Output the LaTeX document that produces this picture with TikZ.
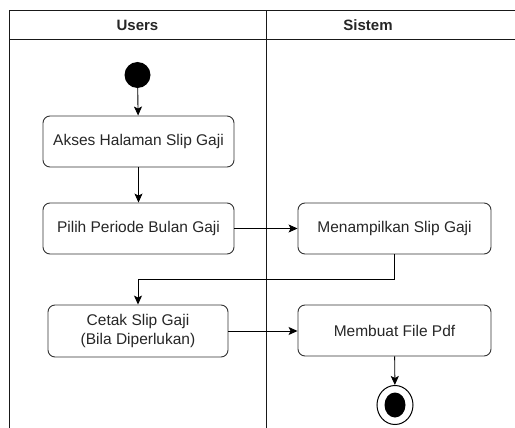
\documentclass[tikz,border=0pt]{standalone}
\usepackage{fontspec}
\setmainfont{Liberation Sans}
\usetikzlibrary{arrows.meta,shapes.geometric}
\begin{document}
\begin{tikzpicture}[x=1pt,y=-1pt,
  act/.style={draw=black!80, line width=0.9pt, rounded corners=7pt, align=center, inner sep=0pt, font=\fontsize{15.5}{18.5}\selectfont, text=black!85},
  conn/.style={draw=black, line width=0.9pt, -{Stealth[length=9pt,width=8pt,inset=2pt]}},
  lane/.style={draw=black!90, line width=1pt},
  hdr/.style={font=\bfseries\fontsize{15}{18}\selectfont, text=black!85}]
\useasboundingbox (0,0) rectangle (515,428);
% swimlanes
\draw[lane] (515,11) -- (9,11) -- (9,428);
\draw[lane] (9,40) -- (515,40);
\draw[lane] (266,11) -- (266,428);
\node[hdr] (h1) at (137.5,25.5) {Users};
\node[hdr] (h2) at (368,25.5) {Sistem};
% nodes
\node[circle, fill=black, minimum size=26pt, inner sep=0pt] (start) at (137.5,75) {};
\node[act, minimum width=191pt, minimum height=51pt] (a1) at (138.5,141.5) {Akses Halaman Slip Gaji};
\node[act, minimum width=191pt, minimum height=51pt] (a2) at (138.5,228.5) {Pilih Periode Bulan Gaji};
\node[act, minimum width=193pt, minimum height=51pt] (s1) at (394.5,228.5) {Menampilkan Slip Gaji};
\node[act, minimum width=180pt, minimum height=52pt] (a3) at (138,331) {Cetak Slip Gaji\\(Bila Diperlukan)};
\node[act, minimum width=193pt, minimum height=51pt] (s2) at (394.5,330.5) {Membuat File Pdf};
\node[ellipse, draw=black, line width=1pt, minimum width=36pt, minimum height=39pt, inner sep=0pt] (end) at (395,405) {};
\fill[black] (end.center) ellipse [x radius=10.5pt, y radius=12.5pt];
\coordinate (c1) at (394.5,279);
\coordinate (c2) at (138,279);
% connectors
\draw[conn] (start) -- (a1);
\draw[conn] (a1) -- (a2);
\draw[conn] (a2) -- (s1);
\draw[conn] (s1.south) -- (c1) -- (c2) -- (a3.north);
\draw[conn] (a3) -- (s2.west |- a3.east);
\draw[conn] (s2) -- (end);
\end{tikzpicture}
\end{document}
